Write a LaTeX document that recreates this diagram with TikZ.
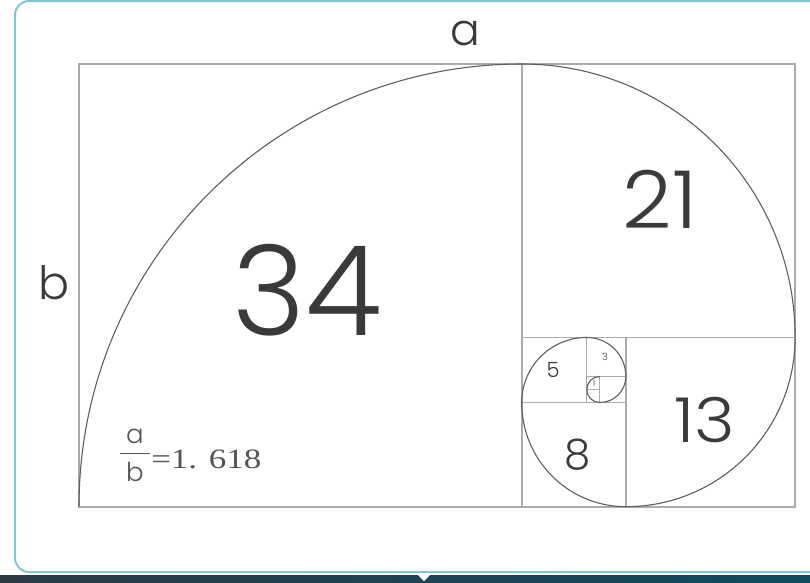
\documentclass[tikz,border=0pt]{standalone}
\usepackage{fontspec}
\setmainfont{Poppins Light}
\newfontfamily\serifnum{Liberation Serif}
\usetikzlibrary{calc}
\definecolor{frameteal}{HTML}{86C6D2}
\definecolor{gridgray}{HTML}{ABABAB}
\definecolor{spiralgray}{HTML}{5E5E5E}
\definecolor{txtgray}{HTML}{3A3A3A}
\definecolor{ratiogray}{HTML}{555555}
\definecolor{stripL}{HTML}{2B3B44}
\definecolor{stripR}{HTML}{0F4C60}
\tikzset{
  gridline/.style={draw=gridgray,line width=1.8pt},
  spiral/.style={draw=spiralgray,line width=1.1pt},
  lbl/.style={text=txtgray,inner sep=0pt,anchor=center},
}
\begin{document}
\begin{tikzpicture}[x=1pt,y=-1pt]
\useasboundingbox (0,0) rectangle (810,582);
\fill[white] (0,0) rectangle (810,582);
% outer frame
\draw[frameteal,line width=2pt,rounded corners=14pt] (15,1) rectangle (840,572);
% bottom strip
\shade[left color=stripL,right color=stripR] (0,575) rectangle (810,582);
\fill[white] (418,575) -- (430,575) -- (424,581) -- cycle;
% golden rectangle in Fibonacci units
\begin{scope}[shift={(79,64)},x=13.02pt,y=-13.02pt]
  \draw[gridline] (0,0) rectangle (55,34);
  \draw[gridline] (34,0) -- (34,34);
  \draw[gridline] (34,21) -- (55,21);
  \draw[gridline] (42,21) -- (42,34);
  \draw[gridline] (34,26) -- (42,26);
  \draw[gridline,line width=1.4pt] (39,21) -- (39,26);
  \draw[gridline,line width=1.2pt] (39,24) -- (42,24);
  \draw[gridline,line width=1pt] (40,24) -- (40,26);
  \draw[gridline,line width=0.8pt] (39,25) -- (40,25);
  \draw[spiral] (0,34)
    arc[start angle=180,end angle=270,radius=34]
    arc[start angle=270,end angle=360,radius=21]
    arc[start angle=0,end angle=90,radius=13]
    arc[start angle=90,end angle=180,radius=8]
    arc[start angle=180,end angle=270,radius=5]
    arc[start angle=270,end angle=360,radius=3]
    arc[start angle=0,end angle=90,radius=2]
    arc[start angle=90,end angle=270,radius=1];
\end{scope}
% labels
\node[lbl,font=\fontsize{125}{125}\selectfont] (n34) at (307,290) {34};
\node[lbl,font=\fontsize{80}{80}\selectfont,xscale=1.08] (n21) at (660,199) {21};
\node[lbl,font=\fontsize{62}{62}\selectfont,xscale=1.12] (n13) at (705,420) {13};
\node[lbl,font=\fontsize{42}{42}\selectfont] (n8) at (578,455) {8};
\node[lbl,font=\fontsize{21}{21}\selectfont] (n5) at (553,370) {5};
\node[lbl,font=\fontsize{10}{10}\selectfont] (n3) at (605,357) {3};
\node[lbl,font=\fontsize{8}{8}\selectfont] (n1) at (594,384) {1};
\node[lbl,font=\fontsize{44}{44}\selectfont] (la) at (465,33) {a};
\node[lbl,font=\fontsize{46}{46}\selectfont] (lb) at (54,283) {b};
% ratio
\node[lbl,text=ratiogray,font=\fontsize{26}{26}\selectfont] (fa) at (135,436) {a};
\node[lbl,text=ratiogray,font=\fontsize{26}{26}\selectfont] (fb) at (135,472) {b};
\coordinate (barL) at (120,453);
\coordinate (barR) at (150,453);
\draw[ratiogray,line width=1pt] (barL) -- (barR);
\node[lbl,text=ratiogray,anchor=west,xscale=1.25,font=\serifnum\fontsize{28}{28}\selectfont] (ratio) at (151,459) {=1.\,\,618};
\end{tikzpicture}
\end{document}
